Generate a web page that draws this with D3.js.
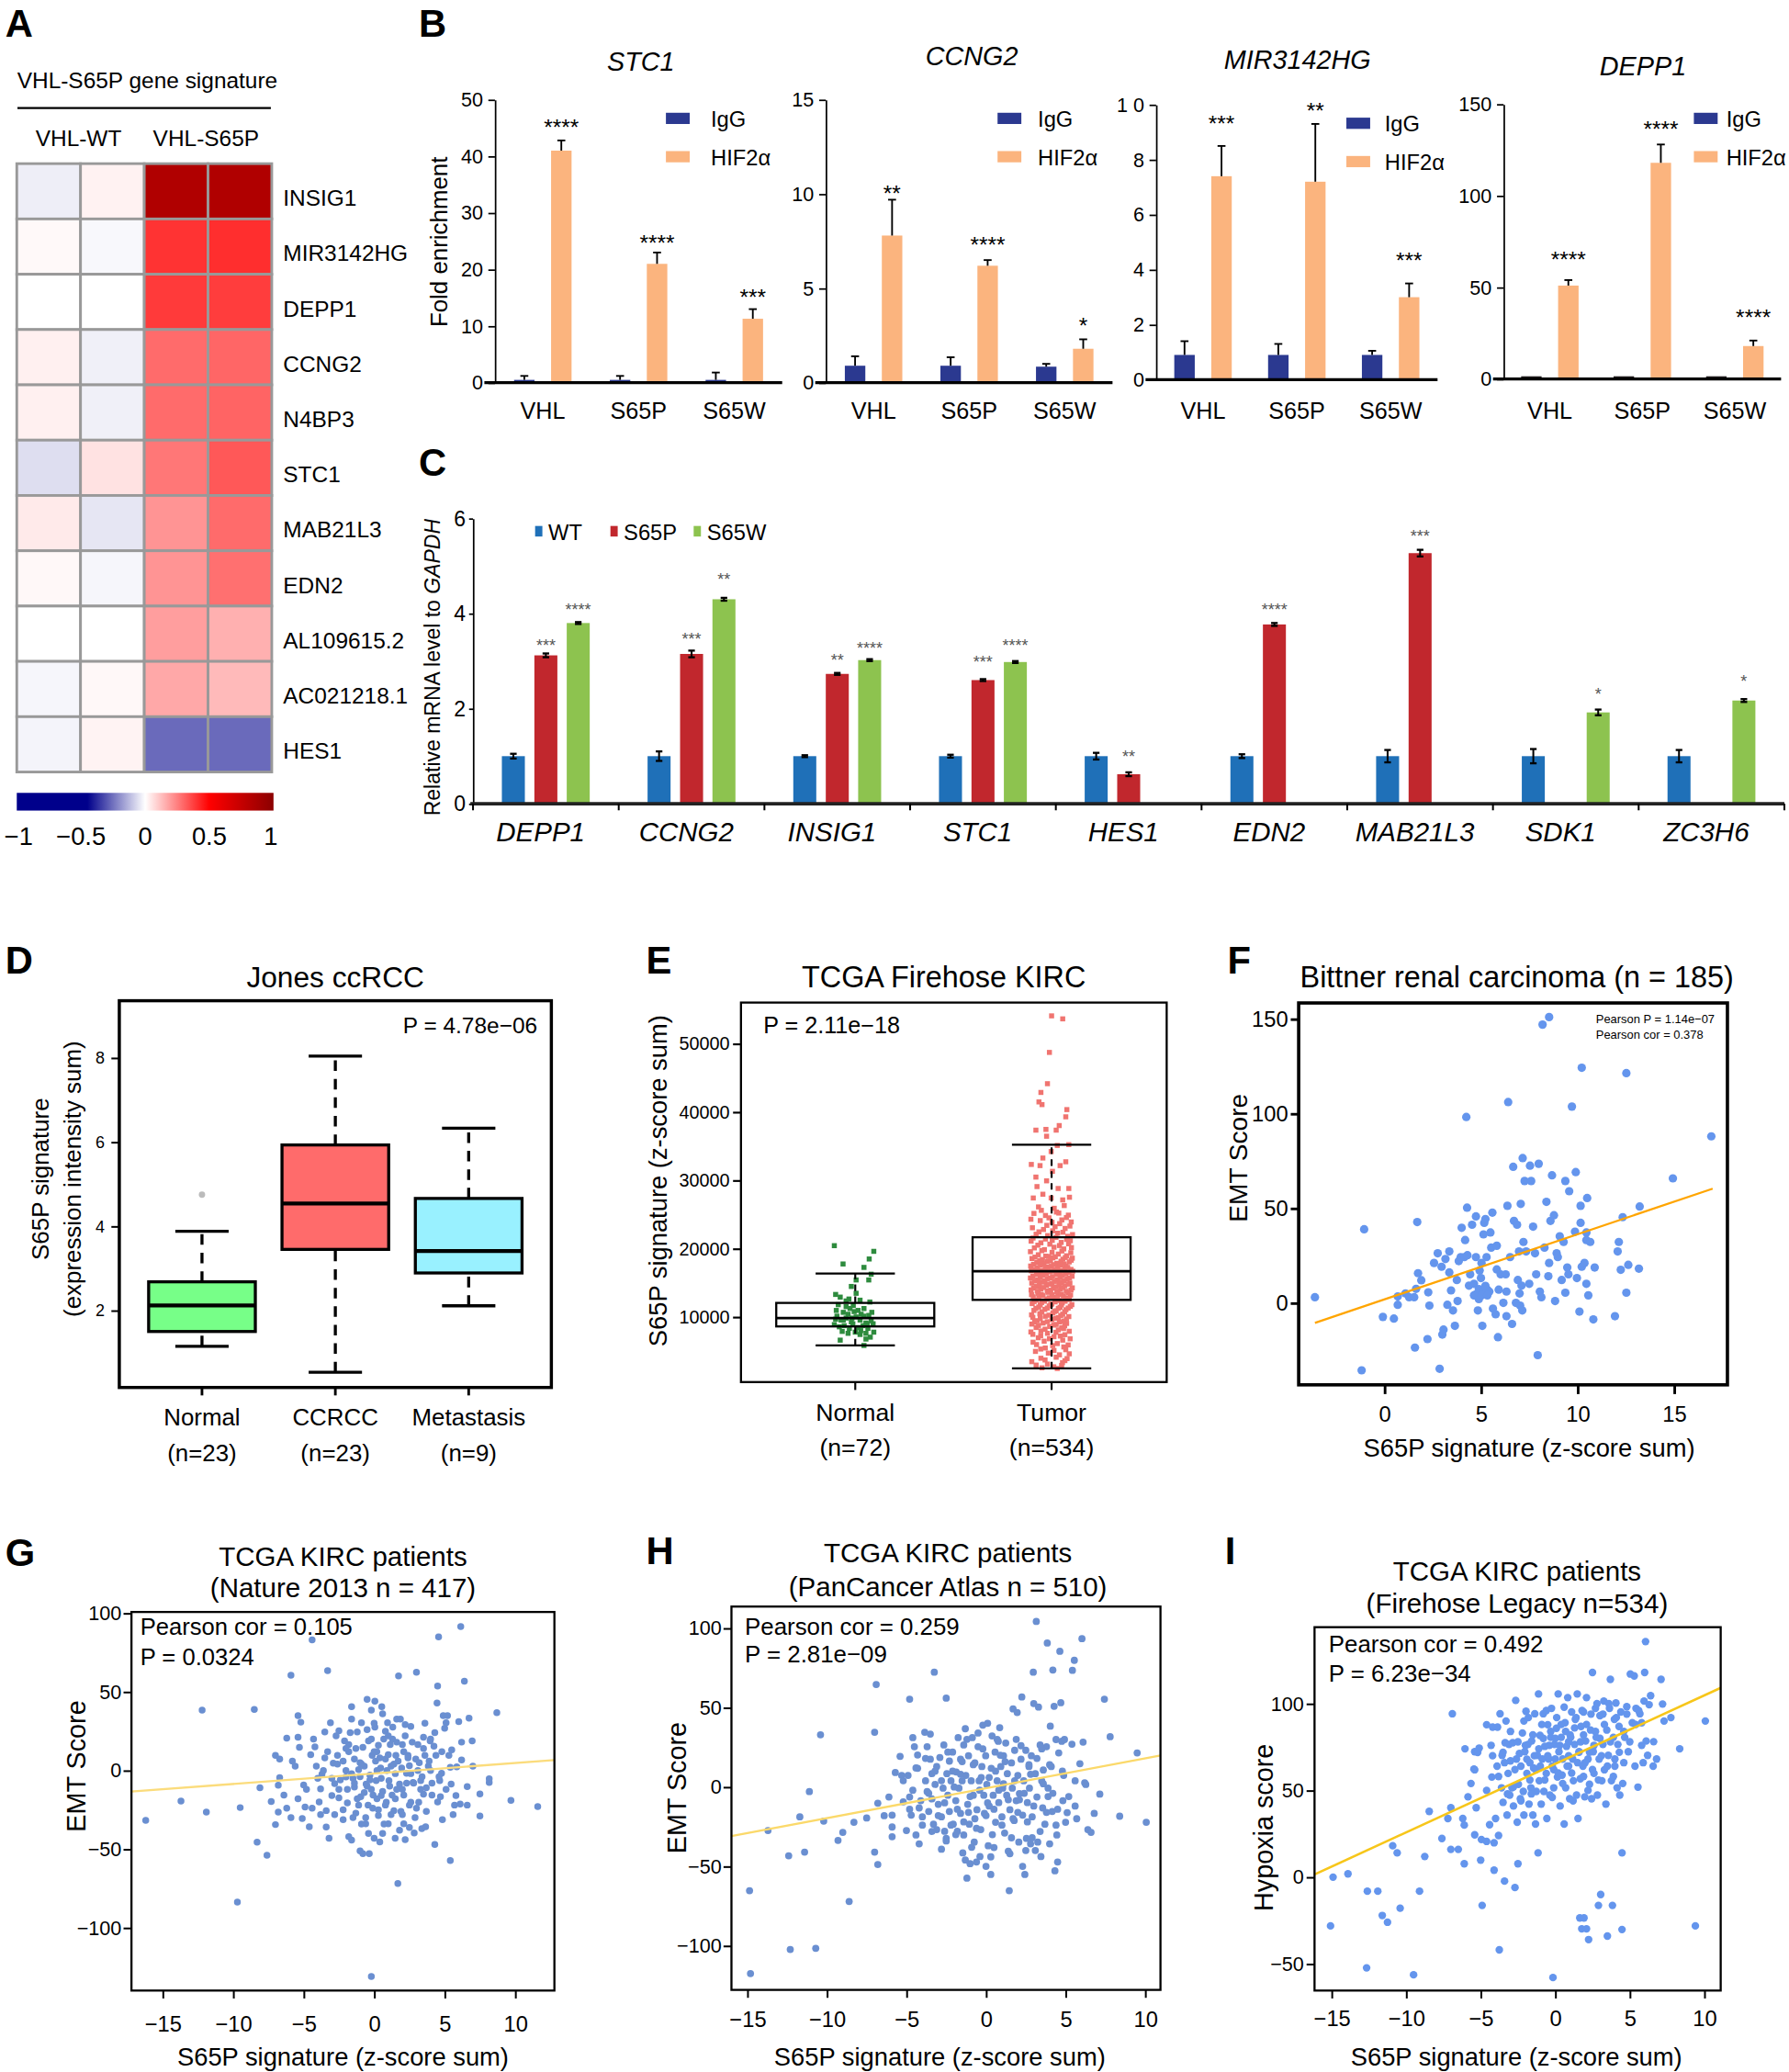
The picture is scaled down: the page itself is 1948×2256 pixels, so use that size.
<!DOCTYPE html>
<html>
<head>
<meta charset="utf-8">
<script src="https://cdn.jsdelivr.net/npm/d3@7"></script>
<style>
  body { margin: 0; background: #fff; }
  svg { display: block; font-family: 'Liberation Sans', Arial, Helvetica, sans-serif; }
</style>
</head>
<body>
<svg id="fig"></svg>
<script>
const SANS = "'Liberation Sans', Arial, Helvetica, sans-serif";

// ---------- A: heatmap ----------
const heatGenes = ["INSIG1", "MIR3142HG", "DEPP1", "CCNG2", "N4BP3", "STC1", "MAB21L3", "EDN2", "AL109615.2", "AC021218.1", "HES1"];
const heatGroups = ["VHL-WT", "VHL-S65P"];
const heatValues = [
  [-0.03, 0.025, 0.84, 0.84],
  [0.012, -0.012, 0.4, 0.41],
  [0.0, 0.0, 0.386, 0.38],
  [0.03, -0.027, 0.29, 0.3],
  [0.03, -0.027, 0.29, 0.304],
  [-0.058, 0.057, 0.267, 0.327],
  [0.041, -0.045, 0.21, 0.29],
  [0.014, -0.016, 0.21, 0.28],
  [0.0, 0.0, 0.19, 0.155],
  [-0.016, 0.014, 0.17, 0.135],
  [-0.02, 0.024, -0.263, -0.263]
];
const heatTicks = [-1, -0.5, 0, 0.5, 1];

// ---------- B: ChIP-qPCR ----------
const chipGenes = ["STC1", "CCNG2", "MIR3142HG", "DEPP1"];
const chipGroups = ["VHL", "S65P", "S65W"];
const chipIgG = [[0.5, 0.5, 0.5], [0.9, 0.9, 0.85], [0.9, 0.9, 0.9], [1.5, 1.5, 1.5]];
const chipIgGErr = [[0.7, 0.7, 1.3], [0.5, 0.45, 0.15], [0.5, 0.4, 0.15], [0, 0, 0]];
const chipHIF = [[41, 21, 11.3], [7.8, 6.2, 1.8], [7.4, 7.2, 3.0], [51, 118, 18]];
const chipHIFErr = [[1.8, 2, 1.7], [1.9, 0.3, 0.5], [1.1, 2.1, 0.5], [3, 10, 3]];
const chipStars = [["****", "****", "***"], ["**", "****", "*"], ["***", "**", "***"], ["****", "****", "****"]];
const chipStarY = [[46, 25.6, 15.9], [10.3, 7.57, 3.3], [9.49, 9.97, 4.5], [67.6, 139.2, 36.4]];
const chipYMax = [50, 15, 10, 150];
const chipTicks = [[0, 10, 20, 30, 40, 50], [0, 5, 10, 15], [0, 2, 4, 6, 8, 10], [0, 50, 100, 150]];
const chipTickLabels = [["0", "10", "20", "30", "40", "50"], ["0", "5", "10", "15"], ["0", "2", "4", "6", "8", "1 0"], ["0", "50", "100", "150"]];

// ---------- C: RT-qPCR ----------
const qpcrGenes = ["DEPP1", "CCNG2", "INSIG1", "STC1", "HES1", "EDN2", "MAB21L3", "SDK1", "ZC3H6"];
const qpcrSeries = ["WT", "S65P", "S65W"];
const qpcrWT = [1, 1, 1, 1, 1, 1, 1, 1, 1];
const qpcrWTErr = [0.05, 0.1, 0.02, 0.03, 0.07, 0.04, 0.13, 0.15, 0.13];
const qpcrS65P = [3.12, 3.15, 2.73, 2.6, 0.62, 3.77, 5.27, null, null];
const qpcrS65PErr = [0.04, 0.07, 0.02, 0.02, 0.04, 0.03, 0.07, null, null];
const qpcrS65W = [3.8, 4.3, 3.02, 2.98, null, null, null, 1.92, 2.17];
const qpcrS65WErr = [0.02, 0.03, 0.02, 0.02, null, null, null, 0.06, 0.03];
const qpcrStarsP = ["***", "***", "**", "***", "**", "****", "***", null, null];
const qpcrStarsPY = [3.41, 3.54, 3.1, 3.06, 1.06, 4.16, 5.71, null, null];
const qpcrStarsW = ["****", "**", "****", "****", null, null, null, "*", "*"];
const qpcrStarsWY = [4.16, 4.79, 3.34, 3.41, null, null, null, 2.38, 2.64];
const qpcrTicks = [0, 2, 4, 6];

// ---------- D: Jones ccRCC boxplot ----------
const jonesGroups = ["Normal", "CCRCC", "Metastasis"];
const jonesN = ["(n=23)", "(n=23)", "(n=9)"];
const jonesLo = [1.15, 0.53, 2.11];
const jonesQ1 = [1.5, 3.45, 2.89];
const jonesMed = [2.12, 4.54, 3.41];
const jonesQ3 = [2.68, 5.93, 4.66];
const jonesHi = [3.88, 8.04, 6.33];
const jonesOutliers = [[1, 4.75]];
const jonesTicks = [2, 4, 6, 8];

// ---------- E: TCGA Firehose KIRC boxplot ----------
const kircGroups = ["Normal", "Tumor"];
const kircN = ["(n=72)", "(n=534)"];
const kircLo = [5822, 2457];
const kircQ1 = [8608, 12495];
const kircMed = [9830, 16690];
const kircQ3 = [12050, 21662];
const kircHi = [16344, 35200];
const kircTicks = [10000, 20000, 30000, 40000, 50000];
// [jitter fraction, value]
const kircNormalPts = [[-0.96,20430],[-0.56,17750],[0.64,18480],[0.85,19600],[0.4,17250],[0.73,16250],[0.62,15410],[0.04,15410],[-0.18,14460],[0.04,13460],[-0.9,13290],[-0.69,12900],[-0.29,12620],[0.22,12450],[0.67,12180],[-0.78,11790],[-0.42,11510],[-0.09,11670],[0.4,11230],[-0.87,10950],[-0.55,10670],[-0.33,10390],[-0.05,10780],[0.27,10390],[0.62,10220],[0.76,10670],[-0.9,9670],[-0.65,9550],[-0.42,9830],[-0.18,9270],[0.04,10000],[0.22,9550],[0.49,9110],[0.73,9440],[-0.96,8880],[-0.73,8550],[-0.51,8720],[-0.27,8330],[-0.11,9000],[0.13,8440],[0.36,8720],[0.58,8330],[0.82,9000],[-0.6,7880],[-0.33,7600],[0,7770],[0.25,7990],[0.49,7600],[0.85,7770],[-0.69,6600],[0.49,6760],[0.4,5820],[0.69,7040],[-0.84,10110],[0.4,10110],[-0.24,11230],[0.13,10950],[-0.42,12340],[0.55,9000],[0.22,7430],[-0.15,9830],[-0.55,9550]];
const kircTumorPts = [[0,54070],[0.51,53630],[-0.1,48720],[-0.19,44140],[-0.49,42860],[-0.58,41470],[-0.44,41080],[0.7,40350],[0.65,39290],[-0.72,37340],[-0.26,37450],[0.35,38010],[0.21,37340],[-0.23,36450],[0.79,35220],[0.26,35100],[-0.02,34210],[-0.4,33260],[-0.93,32320],[-0.53,32150],[0.39,32150],[0.65,32710],[0.04,31310],[-0.72,30470],[-0.23,29920],[-0.67,29080],[0.3,28800],[0.79,28800],[-0.4,27960],[-0.84,27410],[-0.02,27410],[0.51,27130],[0.82,27520],[-0.6,26100],[0.12,25900],[0.58,26300],[-0.81,25150],[-0.28,24850],[0.33,25200],[0.77,24900],[-0.52,24100],[0.02,23850],[0.47,24200],[0.9,23900],[-0.88,23050],[-0.37,22800],[0.16,23200],[0.62,22950],[-0.71,22100],[-0.18,21900],[0.28,22250],[0.74,21800],[0.96,22050],[-0.94,21100],[-0.49,20850],[0.03,21200],[0.44,20900],[0.86,21150],[-0.79,20100],[-0.33,19850],[0.11,20200],[0.56,19950],[0.91,20150],[-0.61,19100],[-0.14,18850],[0.31,19200],[0.69,18950],[-0.9,18550],[-0.42,18400],[0.06,18650],[0.52,18450],[0.95,18600],[-0.68,17950],[-0.21,18100],[0.24,17850],[0.81,18050],[-0.96,17450],[-0.51,17600],[-0.01,17400],[0.39,17550],[0.66,17450],[-0.74,16950],[-0.29,17100],[0.14,16900],[0.61,17050],[0.89,16950],[-0.56,16450],[-0.09,16600],[0.36,16400],[0.79,16550],[-0.86,15950],[-0.41,16100],[0.04,15900],[0.49,16050],[0.94,15950],[-0.64,15450],[-0.19,15600],[0.26,15400],[0.71,15550],[-0.91,14950],[-0.44,15100],[0.01,14900],[0.46,15050],[0.84,14950],[-0.69,14450],[-0.24,14600],[0.19,14400],[0.61,14550],[-0.94,13950],[-0.49,14100],[-0.04,13900],[0.41,14050],[0.89,13950],[-0.61,13450],[-0.16,13600],[0.29,13400],[0.76,13550],[-0.84,12950],[-0.39,13100],[0.09,12900],[0.54,13050],[-0.71,12450],[-0.21,12600],[0.34,12400],[0.81,12550],[-0.89,11950],[-0.46,12100],[0.01,11900],[0.49,12050],[-0.59,11450],[-0.11,11600],[0.39,11400],[0.86,11550],[-0.81,10950],[-0.31,11100],[0.21,10900],[0.66,11050],[-0.54,10450],[0.06,10600],[0.51,10400],[-0.86,9950],[-0.29,10100],[0.31,9900],[0.79,10050],[-0.66,9450],[0.01,9600],[0.56,9400],[-0.91,8950],[-0.39,9100],[0.21,8900],[0.69,9050],[-0.71,8450],[-0.09,8600],[0.46,8400],[-0.49,7950],[0.31,8100],[0.81,7900],[-0.86,7450],[-0.19,7600],[0.61,7400],[-0.61,6950],[0.11,7100],[-0.34,6450],[0.51,6600],[-0.69,5950],[0.26,6100],[0.76,5900],[-0.29,5450],[0.56,5600],[-0.74,4950],[0.11,5100],[0.36,4450],[0.81,4600],[-0.49,3950],[0.21,4100],[0.71,3900],[-0.91,3450],[0.61,3600],[-0.71,2950],[-0.19,3100],[0.46,2900],[-0.44,2550],[0.26,2450],
  [-0.47,25600],[0.22,25350],[-0.12,24500],[0.68,24550],[-0.95,24300],[-0.22,23400],[0.37,23650],[0.84,23300],[-0.58,22450],[0.05,22600],[0.52,22400],[-0.85,21550],[-0.28,21400],[0.2,21650],[0.69,21350],[-0.63,20500],[-0.08,20650],[0.36,20450],[0.78,20700],[-0.97,19550],[-0.45,19700],[0.02,19450],[0.47,19650],[0.88,19400],[-0.76,18750],[-0.27,18900],[0.17,18800],[0.63,18700],[-0.55,18250],[-0.05,18200],[0.43,18150],[0.9,18300],[-0.83,17700],[-0.35,17750],[0.09,17650],[0.58,17750],[-0.65,17200],[-0.18,17300],[0.28,17200],[0.74,17250],[-0.93,16750],[-0.46,16800],[0.02,16700],[0.48,16750],[0.97,16700],[-0.7,16250],[-0.24,16300],[0.22,16200],[0.66,16300],[-0.97,15700],[-0.52,15800],[-0.06,15700],[0.39,15750],[0.82,15700],[-0.77,15250],[-0.31,15300],[0.13,15200],[0.58,15300],[-0.56,14750],[-0.1,14800],[0.34,14750],[0.77,14800],[-0.83,14250],[-0.37,14300],[0.08,14200],[0.52,14300],[0.95,14250],[-0.66,13750],[-0.2,13800],[0.24,13700],[0.67,13750],[-0.92,13250],[-0.47,13300],[0.02,13250],[0.44,13300],[0.87,13200],[-0.59,12750],[-0.12,12800],[0.27,12700],[0.71,12800],[-0.8,12250],[-0.33,12300],[0.16,12200],[0.62,12300],[-0.52,11750],[-0.04,11800],[0.45,11750],[0.93,11800],[-0.72,11250],[-0.2,11300],[0.31,11250],[0.76,11300],[-0.45,10750],[0.14,10800],[0.6,10750],[-0.92,10300],[-0.12,10250],[0.42,10200],[-0.52,9750],[0.18,9800],[0.68,9700],[-0.78,9250],[-0.2,9300],[0.36,9250],[-0.6,8750],[0.1,8800],[0.6,8700],[-0.3,8200],[0.55,8300],[-0.95,7800],[0.2,7750],[-0.5,7250],[0.4,7200],[0.85,6800],[-0.1,6800],[-0.85,6300],[0.05,5800],[-0.5,5300],[0.65,5200],[-0.15,4700],[0.5,3300],[-0.3,3700],[0.1,2700]];

// ---------- F: Bittner scatter ----------
const bittnerPts = [[-3.6,3],[-1.05,38.9],[-1.18,-35.6],[-0.08,-7.4],[0.49,-8.3],[0.69,-1],[0.69,3.4],[1.09,5],[1.28,3],[1.54,3],[1.58,-23.6],[1.74,15.7],[1.7,42.7],[1.91,12],[1.64,7.4],[2.27,5.6],[2.33,-1.4],[2.23,-19.1],[2.57,21.1],[2.76,26.2],[2.96,19.1],[3.16,23.2],[3.36,27.2],[3.26,-1],[3.06,-14.1],[2.86,-34.8],[3.0,-16.7],[3.36,16.1],[3.45,6.6],[3.55,-4],[3.65,-12.1],[3.75,12.1],[3.79,1],[3.85,22.1],[3.95,24.2],[4.0,39.7],[4.14,24.2],[4.18,33.2],[4.28,50.3],[4.24,98.2],[4.3,25.2],[4.38,9.1],[4.44,15.1],[4.54,41.3],[4.64,10.1],[4.74,45.7],[4.74,24.2],[4.64,4],[4.84,-4],[4.89,2],[4.93,17.1],[5.0,13.1],[5.03,21.1],[5.07,-12.1],[5.13,36.2],[5.17,42.3],[5.23,44.3],[5.29,24.2],[5.33,7],[5.43,6],[5.49,37.2],[5.53,29.2],[5.59,47.7],[5.62,-3],[5.76,-6],[5.82,17.7],[5.82,30.2],[5.88,-18.1],[5.92,7],[6.02,15.1],[6.16,0],[6.28,15.1],[6.32,6],[6.32,-7],[6.37,51.3],[6.41,106.1],[6.51,24.2],[6.61,-11.1],[6.67,71.9],[6.71,43.3],[6.81,0],[6.87,41.3],[6.91,12.1],[6.97,27.2],[7.0,5],[7.03,-1.4],[7.06,52.3],[7.1,9.1],[7.14,-4],[7.16,76.5],[7.2,32.2],[7.26,64.4],[7.34,27.2],[7.5,10.1],[7.54,72.5],[7.6,64.4],[7.7,40.3],[7.8,26.2],[7.86,15.1],[7.94,-27.6],[7.99,73.5],[8.05,6],[8.13,3],[8.19,147],[8.53,151],[8.29,29.2],[8.39,53.4],[8.49,14.1],[8.53,21.1],[8.6,43.3],[8.68,67.4],[8.78,46.3],[8.84,1],[8.92,26.2],[8.98,24.2],[9.08,35.2],[9.18,12.1],[9.28,32.2],[9.37,5.4],[9.37,64.4],[9.47,18.7],[9.53,15.1],[9.57,59],[9.71,103.7],[9.87,37.6],[9.91,69.1],[9.97,13.1],[10.1,-4.6],[10.16,51.3],[10.22,124.2],[10.16,42.3],[10.22,19.1],[10.36,21.1],[10.46,37.2],[10.46,33.2],[10.5,55.4],[10.46,10.1],[10.56,4],[10.66,32.2],[10.82,-8.7],[10.89,18.7],[11.94,-7],[12.08,27.2],[12.14,32.2],[12.24,17.5],[12.34,45.3],[12.53,5.4],[12.53,121.4],[12.63,20.1],[13.18,18.1],[13.22,50.9],[14.94,65.8],[16.93,88],[4.74,4.5],[4.89,7.3],[5.13,6],[5.23,9],[5.03,4],[5.33,4]];
const bittnerFit = [1.85, 3.44];
const bittnerFitRange = [-3.6, 17];

// ---------- G: TCGA Nature 2013 ----------
const natureSig = [[-16.2,-31.7],[-13.7,-19.5],[-12.2,38.3],[-11.9,-26.4],[-9.7,-83.7],[-9.5,-23.6],[-8.5,38.8],[-8.3,-45.6],[-8.1,-11],[-7.6,-53.9],[-7.3,-19.7],[-7.0,9.6],[-6.7,7.3],[-7.0,-34.4],[-6.8,-26.4],[-6.7,-4.6],[-6.8,-9.4],[-6.4,-15.6],[-6.2,20.6],[-5.9,60.6],[-5.9,-30],[-5.6,2.8],[-5.4,34.9],[-5.4,21.1],[-5.3,14.7],[-5.2,30.7],[-5.1,-30.5],[-5.0,-9.2],[-4.9,-23.2],[-4.6,-35.8],[-4.4,83],[-4.3,20],[-4.1,2.8],[-3.8,-11.7],[-3.7,-2.3],[-3.5,24.5],[-3.4,-25.5],[-3.3,63.5],[-3.2,-43.1],[-3.1,30.3],[-2.9,4.6],[-2.8,-8.3],[-2.6,9.6],[-2.5,25.2],[-2.5,-17.4],[-2.2,-31.2],[-2.1,18.8],[-2.0,-4.1],[-1.9,-20.6],[-1.8,16.5],[-1.6,32.6],[-1.6,40.6],[-1.6,-44.3],[-1.4,7.3],[-1.4,-10.6],[-1.3,-27.1],[-1.2,24.5],[-1.1,0.5],[-1.0,-51.1],[-0.95,-16.7],[-0.9,30.3],[-0.8,14.7],[-0.8,-52.8],[-0.7,2.8],[-0.6,-33.9],[-0.57,-8.7],[-0.5,45.2],[-0.43,-22],[-0.4,18.8],[-0.35,-52.8],[-0.3,-3],[-0.2,38.3],[-0.2,-131],[-0.14,9.6],[-0.08,-15.6],[0,-43.1],[0.05,44],[0.05,27.5],[0.14,-6.4],[0.19,11.9],[0.3,-28.7],[0.4,-45.4],[0.46,1.6],[0.54,40.6],[0.6,-13.3],[0.68,20],[0.8,7.3],[0.86,-20.2],[0.95,30.3],[1.0,-33.9],[1.05,-6.4],[1.14,16.5],[1.2,2.8],[1.27,-15.6],[1.32,27.5],[1.4,-25.5],[1.49,-43.1],[1.54,9.6],[1.6,32.6],[1.68,-71.8],[1.73,60.1],[1.8,-8.7],[1.86,32.6],[1.95,1.6],[2.0,16.5],[2.1,-33.9],[2.1,-15.6],[2.2,29.1],[2.3,-1.8],[2.4,9.6],[2.5,-36.2],[2.6,-20.2],[2.6,28],[2.76,-7.6],[2.84,-39.7],[2.95,7.3],[3.0,62.4],[3.1,16.5],[3.16,-20.2],[3.3,-6.4],[3.38,-36.9],[3.5,21.1],[3.6,9.6],[3.65,-35.8],[3.7,-11],[3.84,2.8],[3.97,18.8],[4.1,-15.6],[4.24,15.4],[4.3,-47],[4.38,9.6],[4.46,42.9],[4.5,53.7],[4.57,84.9],[4.65,-6.4],[4.7,-16.7],[4.78,-1.8],[4.84,-31.2],[4.9,34.9],[5.0,26.8],[5.1,30.3],[5.2,34.9],[5.3,9.6],[5.4,-57.3],[5.46,-8.7],[5.5,13.1],[5.7,-22],[5.86,2.3],[6.0,31],[6.1,-21.3],[6.14,91.5],[6.2,6.7],[6.4,56.7],[6.6,-22],[6.6,-10.3],[6.73,33.3],[6.95,18.8],[7.0,2.8],[7.5,-14.9],[7.5,-28.9],[8.16,-5.3],[8.16,-7.6],[8.7,36.7],[9.7,-19],[11.6,-22.9],[-2,0],[-1.5,-5],[-1,5],[-0.5,-10],[0.5,-5],[1,10],[1.5,-2],[2,-12],[2.5,3],[-2.5,-12],[-3,-5],[0,12],[0.3,-25],[-0.2,20],[-1.2,-18],[1.6,18],[2.8,-8],[3.2,5],[-3.5,8],[-4,-5],[-4.5,10],[4,0],[0.8,25],[-0.6,-30],[1.2,-28],[2.2,22],[-1.8,12],[-2.2,-25],[3.5,-15],[0.2,0],
  [-4.8,-12],[-4.2,15],[-3.9,-20],[-3.6,0],[-3.3,12],[-3.0,-16],[-2.7,22],[-2.4,-6],[-2.2,6],[-1.9,-12],[-1.7,24],[-1.5,-30],[-1.3,14],[-1.1,-22],[-0.9,4],[-0.7,-14],[-0.5,26],[-0.3,-6],[-0.1,-24],[0.1,6],[0.3,16],[0.5,-16],[0.7,-34],[0.9,0],[1.1,-10],[1.3,20],[1.5,-18],[1.7,6],[1.9,-26],[2.1,12],[2.3,-8],[2.5,-22],[2.7,18],[2.9,-30],[3.1,0],[3.3,-12],[3.5,14],[3.7,-26],[3.9,6],[4.1,-8],[4.3,24],[4.5,-20],[4.8,12],[5.1,-12],[5.4,2],[5.8,-16],[6.2,18],[-0.4,-40],[0.6,36],[1.8,-38],[-2.8,-28],[-1.6,-2],[0.2,-18],[1.4,4],[2.6,-2],[-0.9,-34],[0.0,30],[2.0,-28],[-3.8,-28],[-4.4,-24],[3.0,-24],[1.0,22],[-2.0,14],[-1.0,-4],[0.4,8],[1.6,-12],[2.4,8],[3.4,-4],[-0.2,-12],[0.8,-22],[-1.4,-8],[-2.6,4],[4.6,-4],[5.6,-28],[-5.4,-18],[-5.8,6],[-6.2,-24],[-3.4,-36],[-1.8,-42],[0.6,-40],[2.2,-44],[3.6,30],[4.0,20]];
const natureFit = [-1.93, 0.667];

// ---------- H: TCGA PanCancer Atlas ----------
const panCancerSig = [[-14.86,-65.3],[-14.8,-117.5],[-13.7,-27.4],[-12.4,-43.3],[-12.3,-102.3],[-11.7,-18.8],[-11.4,-41],[-11.1,-2.9],[-10.7,-101.6],[-10.4,32.9],[-10.2,-21.5],[-9.3,-33.6],[-9.0,-28.6],[-8.6,-72.1],[-8.3,-22.2],[-7.5,-19.5],[-7.0,34.5],[-6.9,64.6],[-7.0,-41],[-6.8,-48.8],[-6.8,-10.2],[-6.4,-18.1],[-6.1,-6.3],[-5.9,-17.7],[-5.9,-25.2],[-5.9,-31.3],[-5.7,9.1],[-5.4,19.3],[-5.3,7.3],[-5.2,-9.3],[-5.0,-27.4],[-4.9,7.3],[-4.8,55.3],[-4.8,-6.3],[-4.7,-17.7],[-4.6,31.1],[-4.5,25.4],[-4.4,-30.2],[-4.3,20.2],[-4.3,11.8],[-4.2,-13.2],[-4.2,-35.8],[-4.1,-8.6],[-4.0,-18.8],[-3.85,34.5],[-3.8,3.9],[-3.7,25.4],[-3.7,-2.9],[-3.6,-15.4],[-3.5,17.5],[-3.5,33.3],[-3.4,-7.5],[-3.4,8.4],[-3.3,-23.4],[-3.25,72.3],[-3.2,1.6],[-3.1,-26.8],[-3.1,12.9],[-3.0,-10.9],[-2.9,18.6],[-2.8,-39.2],[-2.8,-18.8],[-2.7,-0.7],[-2.65,26.5],[-2.6,-27.9],[-2.5,-32.4],[-2.5,56],[-2.46,8.4],[-2.4,-5.2],[-2.3,16.3],[-2.3,-15.4],[-2.2,3.9],[-2.1,22],[-2.06,-23.4],[-1.9,-8.6],[-1.87,9.5],[-1.8,-27.9],[-1.75,31.1],[-1.7,-0.7],[-1.6,-16.6],[-1.6,17.5],[-1.5,3.9],[-1.46,-41.5],[-1.4,-30.2],[-1.4,26.5],[-1.3,36.7],[-1.27,7.3],[-1.2,-57.4],[-1.15,-10.9],[-1.1,19.7],[-1.05,-23.4],[-1.0,-48.3],[-0.93,3.9],[-0.86,31.1],[-0.8,-5.2],[-0.74,-34.7],[-0.7,15.2],[-0.6,-47.2],[-0.57,-14.3],[-0.5,25.4],[-0.43,3.9],[-0.38,-43.8],[-0.33,-26.8],[-0.26,12.9],[-0.2,39],[-0.14,-5.2],[-0.1,-16.6],[-0.02,19.7],[0.05,1.6],[0.1,40.1],[0.14,-37],[0.2,-12],[0.3,-55.1],[0.33,11.8],[0.38,32.2],[0.45,-5.2],[0.5,-38.1],[0.57,22],[0.6,-22.2],[0.7,3.9],[0.77,28.8],[0.8,-9.8],[0.86,37.4],[0.93,12.9],[1.0,-18.8],[1.05,-0.7],[1.1,19.7],[1.17,-29],[1.24,27.7],[1.3,-5.2],[1.34,8.4],[1.4,-40.4],[1.46,-65.3],[1.5,-14.3],[1.6,15.2],[1.65,-0.7],[1.7,49.2],[1.77,-21.1],[1.8,23.1],[1.9,-8.6],[1.96,46.9],[2.0,7.3],[2.06,-34.7],[2.1,-4.1],[2.2,17.5],[2.25,56.7],[2.3,-17.7],[2.37,3.9],[2.44,-55.1],[2.5,23.1],[2.54,-32.4],[2.6,-9.8],[2.7,12.9],[2.73,-0.7],[2.8,-35.8],[2.85,19.7],[2.9,-18.8],[2.97,72.3],[3.0,52.6],[3.1,8.4],[3.16,104.3],[3.2,-6.3],[3.25,-34.7],[3.3,50.3],[3.4,26.5],[3.45,-43.8],[3.5,3.9],[3.56,-13.2],[3.6,10.7],[3.7,-23.4],[3.8,25.4],[3.85,90.7],[3.9,-0.7],[4.0,-35.8],[4.04,38.3],[4.1,12.9],[4.16,-15.4],[4.2,73.7],[4.28,50.8],[4.33,-52.8],[4.4,29.9],[4.45,-30.2],[4.5,-47.2],[4.57,21.5],[4.64,85.5],[4.7,53.1],[4.76,28.8],[4.83,-8.6],[4.88,7.3],[4.93,29.9],[5.0,-22.2],[5.1,-16.1],[5.4,27],[5.43,73.5],[5.55,79.8],[5.6,3.9],[5.7,-20],[5.9,14.7],[6.03,93.4],[6.1,28.3],[6.2,2.7],[6.27,1.6],[6.4,-26.8],[6.6,-28.6],[6.8,-16.6],[7.15,-4.5],[7.44,55.3],[7.8,31.7],[8.4,-18.4],[9.5,21.5],[10.07,-22.2],
  [-4.6,-2],[-4.4,12],[-4.0,-24],[-3.8,18],[-3.6,-4],[-3.2,10],[-3.0,-18],[-2.8,4],[-2.6,-10],[-2.4,22],[-2.2,-24],[-2.0,0],[-1.8,-14],[-1.6,8],[-1.4,-22],[-1.2,30],[-1.0,-6],[-0.8,14],[-0.6,-26],[-0.4,-2],[-0.2,24],[0,-18],[0.2,6],[0.4,-30],[0.6,10],[0.8,-2],[1.0,-24],[1.2,16],[1.4,-8],[1.6,-32],[1.8,4],[2.0,-16],[2.2,26],[2.4,-4],[2.6,-22],[2.8,8],[3.0,-12],[3.2,18],[3.4,-28],[3.6,2],[3.8,-16],[4.0,14],[4.2,-4],[4.4,-24],[4.8,10],[5.2,-6],[5.6,-12],[-0.9,-38],[0.3,-44],[1.5,-42],[-2.5,-34],[2.5,-40],[-0.5,34],[0.7,30],[-1.5,16],[0.9,20],[2.9,-32],[-3.4,-28],[1.9,30],[3.5,24],[-1.1,-16],[0.1,-10],[1.1,2],[2.1,-8],[-0.3,6],[-2.1,10],[3.9,-6],[4.5,-14],[-4.8,-14],[-5.2,4],[0.5,-14],[-0.7,-20],[1.7,-20],[2.7,14],[-1.9,-30],[3.1,-40],[0.0,-50],[-1.3,-46],[2.3,-50]];
const panCancerFit = [-0.8, 1.88];

// ---------- I: TCGA Firehose Legacy ----------
const hypoxiaSig = [[-15.07,-28.1],[-14.9,0],[-13.9,1.9],[-12.65,-52.3],[-12.6,-8.1],[-11.9,-8.1],[-11.6,-22.1],[-11.25,-26],[-10.9,18.1],[-10.6,14],[-10.4,-17.9],[-9.5,-56.3],[-9.1,-8.1],[-8.75,11.9],[-8.45,37.9],[-7.6,22.3],[-7.2,33.8],[-7.0,16],[-7.0,40],[-6.9,94.2],[-6.5,16],[-6.2,33.8],[-6.1,30],[-6.1,7.7],[-6.05,74],[-5.85,46.3],[-5.65,54],[-5.4,24.4],[-5.4,72.3],[-5.2,71.9],[-5.1,74.4],[-5.0,9.8],[-4.95,21.7],[-4.9,-16.3],[-5.4,61.9],[-5.3,40],[-5.45,62.3],[-4.6,20.6],[-4.6,87.9],[-4.4,30.2],[-4.3,76],[-4.25,57.7],[-4.2,86.5],[-4.1,19.8],[-4.1,4],[-4.0,33.8],[-3.9,64],[-3.87,86.5],[-3.8,24],[-3.75,-41.9],[-3.7,94.2],[-3.6,51.5],[-3.56,70.2],[-3.5,43.1],[-3.4,-2.3],[-3.36,77.5],[-3.3,90],[-3.23,35.8],[-3.16,59.8],[-3.1,76.5],[-3.05,47.3],[-3.0,67],[-2.9,51.5],[-2.85,77.5],[-2.8,41],[-2.7,-6],[-2.65,101.9],[-2.6,68.1],[-2.55,31.7],[-2.5,7.7],[-2.47,53.5],[-2.4,71.3],[-2.34,45.2],[-2.3,64],[-2.2,83.1],[-2.14,49.4],[-2.1,35.8],[-2.04,72.3],[-1.96,95.6],[-1.9,59.8],[-1.83,76.5],[-1.76,42.1],[-1.7,66],[-1.63,51.5],[-1.58,78.5],[-1.5,35.8],[-1.45,62.9],[-1.37,94.2],[-1.32,30.6],[-1.27,49.4],[-1.2,70.2],[-1.15,14],[-1.12,105.6],[-1.07,55.6],[-1.02,81.7],[-0.94,42.1],[-0.87,68.1],[-0.8,94.2],[-0.76,49.4],[-0.7,75.4],[-0.6,59.8],[-0.56,33.8],[-0.5,87.9],[-0.43,68.1],[-0.36,47.3],[-0.3,80.6],[-0.25,97.3],[-0.2,64],[-0.15,-57.9],[-0.1,51.5],[-0.05,76.5],[0,68.1],[0.08,85.8],[0.15,57.7],[0.2,105.6],[0.25,72.3],[0.33,41],[0.4,80.6],[0.46,58.8],[0.5,68.1],[0.6,30.6],[0.66,89],[0.7,51.5],[0.76,75.4],[0.84,103.5],[0.9,64],[0.97,45.2],[1.04,80.6],[1.1,95.2],[1.17,68.1],[1.22,55.6],[1.3,76.5],[1.35,91],[1.43,47.3],[1.48,105.6],[1.53,33.8],[1.6,72.3],[1.65,-23.5],[1.68,56.7],[1.73,86.9],[1.78,-29.8],[1.86,64],[1.9,95.2],[1.93,-23.5],[1.98,46.3],[2.04,78.5],[2.1,-29.8],[2.1,103.5],[2.2,68.1],[2.24,-36],[2.3,53.5],[2.37,84.8],[2.44,45.2],[2.5,118],[2.55,72.3],[2.6,59.8],[2.7,97.3],[2.75,80.6],[2.83,47.3],[2.9,-16.3],[2.95,68.1],[3.0,93.1],[3.05,-10],[3.13,55.6],[3.2,76.5],[3.26,101.5],[3.3,61.9],[3.4,42.1],[3.46,84.8],[3.5,-34],[3.56,70.2],[3.64,97.3],[3.7,114],[3.77,55.6],[3.84,-16.3],[3.9,80.6],[3.97,91],[4.0,68.1],[4.07,100.4],[4.15,51.5],[4.2,76.5],[4.28,86.9],[4.33,47.3],[4.4,95.2],[4.48,14],[4.48,-30.2],[4.53,54],[4.6,66],[4.66,80.6],[4.8,98.3],[4.9,72.3],[5.04,117.1],[5.17,89],[5.3,116],[5.35,64],[5.42,97.3],[5.55,51.9],[5.68,94.2],[5.8,89],[5.9,66],[5.96,101.5],[6.0,118],[6.06,135.8],[6.1,78.5],[6.2,70.2],[6.3,99.4],[6.4,104.6],[6.57,64],[6.6,78.1],[6.8,68.1],[7.1,114],[7.2,99.8],[7.3,90],[7.76,92],[8.35,74],[9.4,-28.1],[10.07,90],
  [-3.8,58],[-3.5,72],[-3.2,48],[-3.0,84],[-2.7,62],[-2.5,78],[-2.3,44],[-2.1,90],[-1.9,68],[-1.7,56],[-1.5,82],[-1.3,62],[-1.1,74],[-0.9,88],[-0.7,56],[-0.5,70],[-0.3,84],[-0.1,62],[0.1,92],[0.3,76],[0.5,54],[0.7,84],[0.9,70],[1.1,60],[1.3,86],[1.5,66],[1.7,78],[1.9,58],[2.1,88],[2.3,72],[2.5,62],[2.7,84],[2.9,56],[3.1,70],[3.3,88],[3.5,64],[3.7,78],[3.9,58],[4.1,92],[4.3,72],[4.6,84],[5.0,78],[5.4,88],[5.8,76],[-0.6,96],[0.6,98],[1.8,96],[-1.8,92],[2.8,100],[3.6,100],[-2.8,52],[-0.2,46],[1.2,44],[2.2,50],[0.2,60],[1.6,72],[-1.4,70],[0.8,64],[2.6,76],[-0.8,80],[1.0,82],[3.0,80],[-2.0,76],[0.0,80],[2.0,66],[-1.0,64],[4.0,64],[-3.4,66],[4.8,94],[-4.2,70],[-4.6,50],[5.6,96],[0.4,88],[1.4,92],[2.4,94],[-0.4,76],[3.2,94],[0.9,78],[-1.6,48],[1.9,82]];
const hypoxiaFit = [65.3, 3.95];

const scatterXTicks = [-15, -10, -5, 0, 5, 10];

// ================= drawing =================
const svg = d3.select("#fig")
  .attr("width", 1948).attr("height", 2256)
  .attr("viewBox", "0 0 1354 1568");

function text(x, y, s, fs, o = {}) {
  const t = svg.append("text").attr("x", x).attr("y", y).attr("font-size", fs).text(s);
  if (o.anchor) t.attr("text-anchor", o.anchor);
  if (o.italic) t.attr("font-style", "italic");
  if (o.bold) t.attr("font-weight", "bold");
  if (o.fill) t.attr("fill", o.fill);
  if (o.rotate) t.attr("transform", `rotate(-90,${x},${y})`);
  return t;
}

function frame(f, w) {
  svg.append("rect")
    .attr("x", f.x0).attr("y", f.y0)
    .attr("width", f.x1 - f.x0).attr("height", f.y1 - f.y0)
    .attr("fill", "none").attr("stroke", "#000").attr("stroke-width", w);
}

function styleAxis(g, fs, sw, keepDomain) {
  g.attr("font-size", fs).attr("font-family", SANS);
  g.selectAll("line").attr("stroke-width", sw);
  g.selectAll("text").attr("fill", "#000");
  if (!keepDomain) g.select(".domain").remove();
  else g.select(".domain").attr("stroke-width", sw);
}

// panel letters
[["A", 4, 27.5], ["B", 317, 27.5], ["C", 317, 360], ["D", 4, 736.5], ["E", 489, 736.5], ["F", 929, 736.5],
 ["G", 4, 1185], ["H", 489, 1183.6], ["I", 927, 1183.6]]
  .forEach(d => text(d[1], d[2], d[0], 29, { bold: true }));

// ---------- A ----------
(function () {
  const x0 = 12.7, x1 = 205.7, y0 = 123.8, y1 = 584.2;
  const hx = d3.scaleBand().domain(d3.range(4)).range([x0, x1]);
  const hy = d3.scaleBand().domain(heatGenes).range([y0, y1]);
  const color = d3.scaleLinear()
    .domain([-1, -0.45, 0, 0.5, 1])
    .range(["#00008b", "#00008b", "#ffffff", "#ff0000", "#8b0000"]);

  text(13, 66.7, "VHL-S65P gene signature", 17);
  svg.append("line").attr("x1", 13.2).attr("x2", 205).attr("y1", 81.7).attr("y2", 81.7)
    .attr("stroke", "#000").attr("stroke-width", 1.5);
  heatGroups.forEach((g, i) => text(hx(i * 2) + hx.bandwidth() - 1.5, 110.4, g, 17, { anchor: "middle" }));

  heatGenes.forEach((gene, r) => {
    heatValues[r].forEach((v, c) => {
      svg.append("rect")
        .attr("x", hx(c)).attr("y", hy(gene))
        .attr("width", hx.bandwidth()).attr("height", hy.bandwidth())
        .attr("fill", color(v)).attr("stroke", "#999").attr("stroke-width", 2);
    });
    text(214.3, hy(gene) + hy.bandwidth() / 2 + 11, gene, 17);
  });

  const grad = svg.append("defs").append("linearGradient").attr("id", "heatGrad");
  color.domain().forEach(v => grad.append("stop")
    .attr("offset", ((v + 1) / 2 * 100) + "%").attr("stop-color", color(v)));
  const cb = d3.scaleLinear().domain([-1, 1]).range([12.7, 207]);
  svg.append("rect").attr("x", cb(-1)).attr("y", 600).attr("width", cb(1) - cb(-1)).attr("height", 13.4)
    .attr("fill", "url(#heatGrad)");
  heatTicks.forEach(t => text(cb(t) + (t === -1 ? 1.5 : t === 1 ? -2 : 0), 639.7,
    d3.format("")(t), 19, { anchor: "middle" }));
})();

// ---------- B ----------
const chipLayout = [
  { ax: 374.6, end: 592, y0: 289.6, yTop: 75.4, tx: 485, ty: 53.3, lx: 504, ly: 85.3, lt: 34 },
  { ax: 625, end: 842, y0: 289.6, yTop: 75.4, tx: 735.5, ty: 49.4, lx: 755, ly: 85.3, lt: 30.5 },
  { ax: 875, end: 1088, y0: 287.3, yTop: 79.2, tx: 982, ty: 52, lx: 1019, ly: 89, lt: 29 },
  { ax: 1138, end: 1348, y0: 286.8, yTop: 78.8, tx: 1243.5, ty: 56.8, lx: 1282, ly: 85.3, lt: 24.5 }
];
const igColor = "#2b3990", hifColor = "#fbb47e";

chipGenes.forEach((gene, i) => {
  const L = chipLayout[i];
  const y = d3.scaleLinear().domain([0, chipYMax[i]]).range([L.y0, L.yTop]);
  const x = d3.scaleBand().domain(chipGroups).range([L.ax, L.end]);
  const bw = 15.5, off = 14;

  text(L.tx, L.ty, gene, 20, { anchor: "middle", italic: true });

  const ax = svg.append("g").attr("transform", `translate(${L.ax},0)`)
    .call(d3.axisLeft(y).tickValues(chipTicks[i]).tickSize(5).tickPadding(4).tickSizeOuter(0)
      .tickFormat((d, k) => chipTickLabels[i][k]));
  styleAxis(ax, 15, 1.2, true);

  chipGroups.forEach((grp, k) => {
    const cx = x(grp) + x.bandwidth() / 2;
    const bars = [
      { v: chipIgG[i][k], e: chipIgGErr[i][k], x: cx - off, c: i === 3 ? "#231f20" : igColor },
      { v: chipHIF[i][k], e: chipHIFErr[i][k], x: cx + off, c: hifColor }
    ];
    bars.forEach(b => {
      svg.append("rect").attr("x", b.x - bw / 2).attr("y", y(b.v))
        .attr("width", bw).attr("height", y(0) - y(b.v)).attr("fill", b.c);
      if (b.e > 0) {
        svg.append("line").attr("x1", b.x).attr("x2", b.x).attr("y1", y(b.v)).attr("y2", y(b.v + b.e))
          .attr("stroke", "#000").attr("stroke-width", 1.3);
        svg.append("line").attr("x1", b.x - 3).attr("x2", b.x + 3).attr("y1", y(b.v + b.e)).attr("y2", y(b.v + b.e))
          .attr("stroke", "#000").attr("stroke-width", 1.3);
      }
    });
    text(cx + off, y(chipStarY[i][k]) + 9.5, chipStars[i][k], 17, { anchor: "middle" });
    text(cx, 316.8, grp, 17.5, { anchor: "middle" });
  });

  svg.append("line").attr("x1", L.ax - 8).attr("x2", L.end).attr("y1", L.y0).attr("y2", L.y0)
    .attr("stroke", "#000").attr("stroke-width", 2.2);

  svg.append("rect").attr("x", L.lx).attr("y", L.ly).attr("width", 18).attr("height", 8.5).attr("fill", igColor);
  svg.append("rect").attr("x", L.lx).attr("y", L.ly + 29).attr("width", 18).attr("height", 8.5).attr("fill", hifColor);
  text(L.lx + L.lt, L.ly + 10.5, "IgG", 16.5);
  text(L.lx + L.lt, L.ly + 39.5, "HIF2\u03b1", 16.5);
});
text(338.5, 183, "Fold enrichment", 18, { anchor: "middle", rotate: true });

// ---------- C ----------
(function () {
  const x = d3.scaleBand().domain(qpcrGenes).range([358, 1350.5]);
  const y = d3.scaleLinear().domain([0, 6]).range([608.2, 392.3]);
  const colors = { WT: "#1f70b8", S65P: "#c1272d", S65W: "#8dc34f" };
  const offs = { WT: -24.6, S65P: 0, S65W: 24.5 };
  const vals = { WT: [qpcrWT, qpcrWTErr], S65P: [qpcrS65P, qpcrS65PErr], S65W: [qpcrS65W, qpcrS65WErr] };
  const bw = 17.4;

  const ax = svg.append("g").attr("transform", "translate(358,0)")
    .call(d3.axisLeft(y).tickValues(qpcrTicks).tickSize(3).tickPadding(2.5).tickSizeOuter(0)
      .tickFormat(d3.format("d")));
  styleAxis(ax, 16, 1.2, true);

  qpcrGenes.forEach((gene, gi) => {
    const cx = x(gene) + x.bandwidth() / 2;
    qpcrSeries.forEach(s => {
      const v = vals[s][0][gi], e = vals[s][1][gi];
      if (v == null) return;
      const bx = cx + offs[s];
      svg.append("rect").attr("x", bx - bw / 2).attr("y", y(v)).attr("width", bw)
        .attr("height", y(0) - y(v)).attr("fill", colors[s]);
      svg.append("line").attr("x1", bx).attr("x2", bx).attr("y1", y(v - e)).attr("y2", y(v + e))
        .attr("stroke", "#000").attr("stroke-width", 1.4);
      [v - e, v + e].forEach(t => svg.append("line").attr("x1", bx - 2.5).attr("x2", bx + 2.5)
        .attr("y1", y(t)).attr("y2", y(t)).attr("stroke", "#000").attr("stroke-width", 1.6));
    });
    if (qpcrStarsP[gi]) text(cx + offs.S65P, y(qpcrStarsPY[gi]) + 7, qpcrStarsP[gi], 12.5, { anchor: "middle", fill: "#555" });
    if (qpcrStarsW[gi]) text(cx + offs.S65W, y(qpcrStarsWY[gi]) + 7, qpcrStarsW[gi], 12.5, { anchor: "middle", fill: "#555" });
    text(cx - 4, 636.5, gene, 20.5, { anchor: "middle", italic: true });
  });

  svg.append("line").attr("x1", 356).attr("x2", 1350.5).attr("y1", y(0)).attr("y2", y(0))
    .attr("stroke", "#222").attr("stroke-width", 2.6);
  const bounds = qpcrGenes.map(g => x(g)).concat([x.range()[1]]);
  bounds.forEach(b => svg.append("line").attr("x1", b).attr("x2", b).attr("y1", y(0)).attr("y2", y(0) + 5)
    .attr("stroke", "#000").attr("stroke-width", 1.4));

  const legX = [405, 462, 525];
  qpcrSeries.forEach((s, k) => {
    svg.append("rect").attr("x", legX[k]).attr("y", 398).attr("width", 5.5).attr("height", 8).attr("fill", colors[s]);
    text(legX[k] + 10, 409, s, 16.5);
  });

  const yl = text(333, 505, "Relative mRNA level to ", 16, { anchor: "middle", rotate: true });
  yl.append("tspan").attr("font-style", "italic").text("GAPDH");
})();

// ---------- D ----------
(function () {
  const f = { x0: 90.3, x1: 417.3, y0: 757.3, y1: 1050 };
  const x = d3.scaleLinear().domain([0.38, 3.62]).range([f.x0, f.x1]);
  const y = d3.scaleLinear().domain([2, 8]).range([991.7, 800.5]);
  const fills = ["#77ff88", "#ff6b6b", "#99f1ff"];
  const hw = 0.4, cw = 0.2;

  jonesGroups.forEach((g, i) => {
    const p = i + 1;
    svg.append("line").attr("x1", x(p)).attr("x2", x(p)).attr("y1", y(jonesLo[i])).attr("y2", y(jonesQ1[i]))
      .attr("stroke", "#000").attr("stroke-width", 2.3).attr("stroke-dasharray", "8,6");
    svg.append("line").attr("x1", x(p)).attr("x2", x(p)).attr("y1", y(jonesQ3[i])).attr("y2", y(jonesHi[i]))
      .attr("stroke", "#000").attr("stroke-width", 2.3).attr("stroke-dasharray", "8,6");
    [jonesLo[i], jonesHi[i]].forEach(v => svg.append("line")
      .attr("x1", x(p - cw)).attr("x2", x(p + cw)).attr("y1", y(v)).attr("y2", y(v))
      .attr("stroke", "#000").attr("stroke-width", 2.3));
    svg.append("rect").attr("x", x(p - hw)).attr("y", y(jonesQ3[i]))
      .attr("width", x(p + hw) - x(p - hw)).attr("height", y(jonesQ1[i]) - y(jonesQ3[i]))
      .attr("fill", fills[i]).attr("stroke", "#000").attr("stroke-width", 2.3);
    svg.append("line").attr("x1", x(p - hw)).attr("x2", x(p + hw)).attr("y1", y(jonesMed[i])).attr("y2", y(jonesMed[i]))
      .attr("stroke", "#000").attr("stroke-width", 3);
    svg.append("line").attr("x1", x(p)).attr("x2", x(p)).attr("y1", f.y1).attr("y2", f.y1 + 6)
      .attr("stroke", "#000").attr("stroke-width", 2);
    text(x(p), 1079, g, 18, { anchor: "middle" });
    text(x(p), 1105.5, jonesN[i], 18, { anchor: "middle" });
  });
  jonesOutliers.forEach(o => svg.append("circle").attr("cx", x(o[0])).attr("cy", y(o[1])).attr("r", 2.4).attr("fill", "#bbb"));
  frame(f, 2.4);

  const ax = svg.append("g").attr("transform", `translate(${f.x0},0)`)
    .call(d3.axisLeft(y).tickValues(jonesTicks).tickSize(6).tickPadding(5).tickFormat(d3.format("d")));
  styleAxis(ax, 12.5, 1.4, false);

  text(253.8, 747.3, "Jones ccRCC", 22, { anchor: "middle" });
  text(406.7, 782.2, "P = 4.78e\u221206", 17, { anchor: "end" });
  text(36.8, 892.2, "S65P signature", 18, { anchor: "middle", rotate: true });
  text(61.3, 892.2, "(expression intensity sum)", 18, { anchor: "middle", rotate: true });
})();

// ---------- E ----------
(function () {
  const f = { x0: 560.8, x1: 883, y0: 758.7, y1: 1045.9 };
  const x = d3.scalePoint().domain(kircGroups).range([647.3, 795.9]);
  const y = d3.scaleLinear().domain([10000, 50000]).range([996.6, 789.8]);
  const jw = 16.5, sq = 3.8;

  svg.append("g").selectAll("rect").data(kircNormalPts).join("rect")
    .attr("x", d => x("Normal") + d[0] * jw - sq / 2).attr("y", d => y(d[1]) - sq / 2)
    .attr("width", sq).attr("height", sq).attr("fill", "#2e8b3e");
  svg.append("g").selectAll("rect").data(kircTumorPts).join("rect")
    .attr("x", d => x("Tumor") + d[0] * jw - sq / 2).attr("y", d => y(d[1]) - sq / 2)
    .attr("width", sq).attr("height", sq).attr("fill", "#f07470");

  kircGroups.forEach((g, i) => {
    const cx = x(g), hw = 59.8, cw = 30;
    [[kircLo[i], kircQ1[i]], [kircQ3[i], kircHi[i]]].forEach(s => svg.append("line")
      .attr("x1", cx).attr("x2", cx).attr("y1", y(s[0])).attr("y2", y(s[1]))
      .attr("stroke", "#000").attr("stroke-width", 1.5).attr("stroke-dasharray", "5,4"));
    [kircLo[i], kircHi[i]].forEach(v => svg.append("line").attr("x1", cx - cw).attr("x2", cx + cw)
      .attr("y1", y(v)).attr("y2", y(v)).attr("stroke", "#000").attr("stroke-width", 1.6));
    svg.append("rect").attr("x", cx - hw).attr("y", y(kircQ3[i])).attr("width", hw * 2)
      .attr("height", y(kircQ1[i]) - y(kircQ3[i])).attr("fill", "none").attr("stroke", "#000").attr("stroke-width", 1.6);
    svg.append("line").attr("x1", cx - hw).attr("x2", cx + hw).attr("y1", y(kircMed[i])).attr("y2", y(kircMed[i]))
      .attr("stroke", "#000").attr("stroke-width", 1.8);
    svg.append("line").attr("x1", cx).attr("x2", cx).attr("y1", f.y1).attr("y2", f.y1 + 6)
      .attr("stroke", "#000").attr("stroke-width", 1.5);
    text(cx, 1075.2, g, 18.5, { anchor: "middle" });
    text(cx, 1101.9, kircN[i], 18.5, { anchor: "middle" });
  });
  frame(f, 1.6);
  const ax = svg.append("g").attr("transform", `translate(${f.x0},0)`)
    .call(d3.axisLeft(y).tickValues(kircTicks).tickSize(6).tickPadding(2.5).tickFormat(d3.format("d")));
  styleAxis(ax, 13.8, 1.5, false);

  text(714.3, 747.3, "TCGA Firehose KIRC", 22.5, { anchor: "middle" });
  text(577.8, 782.2, "P = 2.11e\u221218", 17.5);
  text(504.5, 893.6, "S65P signature (z-score sum)", 19, { anchor: "middle", rotate: true });
})();

// ---------- scatter helper ----------
function scatterPanel(o) {
  const x = d3.scaleLinear().domain(o.xDom).range(o.xRange);
  const y = d3.scaleLinear().domain(o.yDom).range(o.yRange);
  svg.append("g").selectAll("circle").data(o.pts).join("circle")
    .attr("cx", d => x(d[0])).attr("cy", d => y(d[1])).attr("r", o.r).attr("fill", o.color);
  const xs = o.fitRange || [x.invert(o.f.x0), x.invert(o.f.x1)];
  svg.append("line")
    .attr("x1", x(xs[0])).attr("y1", y(o.fit[0] + o.fit[1] * xs[0]))
    .attr("x2", x(xs[1])).attr("y2", y(o.fit[0] + o.fit[1] * xs[1]))
    .attr("stroke", o.lineColor).attr("stroke-width", o.lw);
  frame(o.f, o.fw);
  const ay = svg.append("g").attr("transform", `translate(${o.f.x0},0)`)
    .call(d3.axisLeft(y).tickValues(o.yTicks).tickSize(6).tickPadding(o.yPad).tickFormat(d3.format("d")));
  styleAxis(ay, o.yfs, o.tw, false);
  const axx = svg.append("g").attr("transform", `translate(0,${o.f.y1})`)
    .call(d3.axisBottom(x).tickValues(o.xTicks).tickSize(o.xTickLen).tickPadding(o.xPad).tickFormat(d3.format("d")));
  styleAxis(axx, o.xfs, o.tw, false);
}

// ---------- F ----------
scatterPanel({
  f: { x0: 982.9, x1: 1307.4, y0: 759, y1: 1048 },
  xDom: [0, 15], xRange: [1047.8, 1267], yDom: [0, 150], yRange: [986, 771.1],
  pts: bittnerPts, r: 3.2, color: "#6495ed",
  fit: bittnerFit, fitRange: bittnerFitRange, lineColor: "#ffa500", lw: 1.6,
  fw: 2.5, tw: 2, yTicks: [0, 50, 100, 150], xTicks: [0, 5, 10, 15],
  yPad: 2, xPad: 8.9, xTickLen: 7, yfs: 16.5, xfs: 16.5
});
text(1148, 747.3, "Bittner renal carcinoma (n = 185)", 22.5, { anchor: "middle" });
text(1207.9, 774.4, "Pearson P = 1.14e\u221207", 9);
text(1207.9, 786, "Pearson cor = 0.378", 9);
text(1157.3, 1102.5, "S65P signature (z-score sum)", 19, { anchor: "middle" });
text(943.7, 876.3, "EMT Score", 19.5, { anchor: "middle", rotate: true });

// ---------- G ----------
scatterPanel({
  f: { x0: 99.5, x1: 419.6, y0: 1219.9, y1: 1506.4 },
  xDom: [-15, 10], xRange: [123.1, 389.9], yDom: [-100, 100], yRange: [1458.9, 1220.8],
  pts: natureSig, r: 2.6, color: "#6a8fd1",
  fit: natureFit, lineColor: "#fbdc7c", lw: 1.6,
  fw: 1.6, tw: 1.4, yTicks: [-100, -50, 0, 50, 100], xTicks: scatterXTicks,
  yPad: 1.5, xPad: 13, xTickLen: 6, yfs: 15, xfs: 16.5
});
text(259.6, 1185, "TCGA KIRC patients", 20.5, { anchor: "middle" });
text(259.6, 1208.5, "(Nature 2013 n = 417)", 20.5, { anchor: "middle" });
text(106.1, 1236.9, "Pearson cor = 0.105", 17.8);
text(106.1, 1260.1, "P = 0.0324", 17.8);
text(259.6, 1563.2, "S65P signature (z-score sum)", 19, { anchor: "middle" });
text(64.7, 1336.6, "EMT Score", 20, { anchor: "middle", rotate: true });

// ---------- H ----------
scatterPanel({
  f: { x0: 553.6, x1: 878.3, y0: 1215.8, y1: 1505.9 },
  xDom: [-15, 10], xRange: [565.6, 866.7], yDom: [-100, 100], yRange: [1472.5, 1232.2],
  pts: panCancerSig, r: 2.7, color: "#6a8fd1",
  fit: panCancerFit, lineColor: "#fbd96a", lw: 1.6,
  fw: 1.6, tw: 1.4, yTicks: [-100, -50, 0, 50, 100], xTicks: scatterXTicks,
  yPad: 1.5, xPad: 10.5, xTickLen: 6, yfs: 15, xfs: 16.5
});
text(717.4, 1182.2, "TCGA KIRC patients", 20.5, { anchor: "middle" });
text(717.4, 1208.2, "(PanCancer Atlas n = 510)", 20.5, { anchor: "middle" });
text(563.7, 1236.9, "Pearson cor = 0.259", 18);
text(563.7, 1257.9, "P = 2.81e\u221209", 18);
text(711.3, 1563.2, "S65P signature (z-score sum)", 19, { anchor: "middle" });
text(519.3, 1353, "EMT Score", 20, { anchor: "middle", rotate: true });

// ---------- I ----------
scatterPanel({
  f: { x0: 994.9, x1: 1302.3, y0: 1231.4, y1: 1506.4 },
  xDom: [-15, 10], xRange: [1007.8, 1289.9], yDom: [-50, 100], yRange: [1486.2, 1289.3],
  pts: hypoxiaSig, r: 2.9, color: "#6495ed",
  fit: hypoxiaFit, lineColor: "#f7c61a", lw: 1.8,
  fw: 1.6, tw: 1.4, yTicks: [-50, 0, 50, 100], xTicks: scatterXTicks,
  yPad: 2, xPad: 9.5, xTickLen: 6, yfs: 15, xfs: 16.5
});
text(1148.2, 1195.9, "TCGA KIRC patients", 20.5, { anchor: "middle" });
text(1148.2, 1220.5, "(Firehose Legacy n=534)", 20.5, { anchor: "middle" });
text(1005.6, 1250.5, "Pearson cor = 0.492", 18);
text(1005.6, 1272.4, "P = 6.23e\u221234", 18);
text(1147.7, 1563.2, "S65P signature (z-score sum)", 19, { anchor: "middle" });
text(963.7, 1383, "Hypoxia score", 20, { anchor: "middle", rotate: true });
</script>
</body>
</html>
